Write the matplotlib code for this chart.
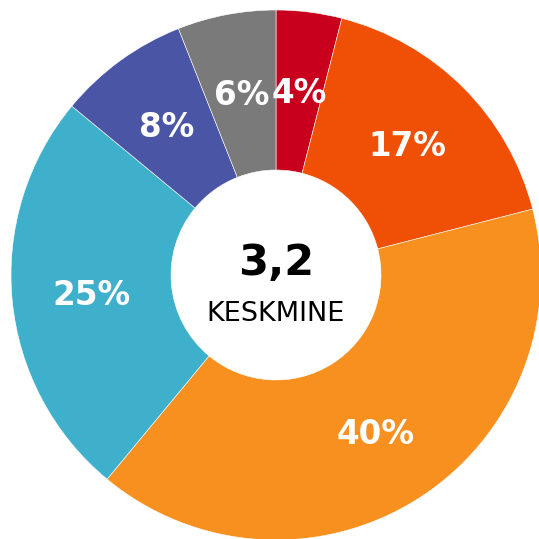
import matplotlib

matplotlib.use("Agg")

import matplotlib.pyplot as plt
import numpy as np

shares = [4, 17, 40, 25, 8, 6]
labels = ["4%", "17%", "40%", "25%", "8%", "6%"]
colors = ["#c8001e", "#f05005", "#f7901e", "#3fb0cb", "#4a55a6", "#7a7a7a"]
average = "3,2"
average_label = "KESKMINE"

fig = plt.figure(figsize=(5.39, 5.39), dpi=100)
ax = fig.add_axes([0, 0, 1, 1])

R = 265.0
cx, cy = 276.0, 275.0

ax.pie(
    shares,
    colors=colors,
    startangle=90,
    counterclock=False,
    radius=1.0,
    wedgeprops=dict(width=1.0 - 105 / R, edgecolor="white", linewidth=0.4),
    frame=False,
)
ax.set_xlim(-cx / R, (539 - cx) / R)
ax.set_ylim(-(539 - cy) / R, cy / R)
ax.set_aspect("equal")
ax.axis("off")

# percentage labels at the middle of each ring segment
total = sum(shares)
start = 90.0
for share, label in zip(shares, labels):
    mid = np.deg2rad(start - share / total * 360 / 2)
    start -= share / total * 360
    ax.text(0.70 * np.cos(mid), 0.70 * np.sin(mid) - 3 / R, label, ha="center", va="center",
            color="white", fontsize=23.5, fontweight="bold")

ax.text(0, 12 / R, average, ha="center", va="center", fontsize=31, fontweight="bold")
ax.text(0, -39 / R, average_label, ha="center", va="center", fontsize=19.5)

fig.savefig("out.png", dpi=100)
